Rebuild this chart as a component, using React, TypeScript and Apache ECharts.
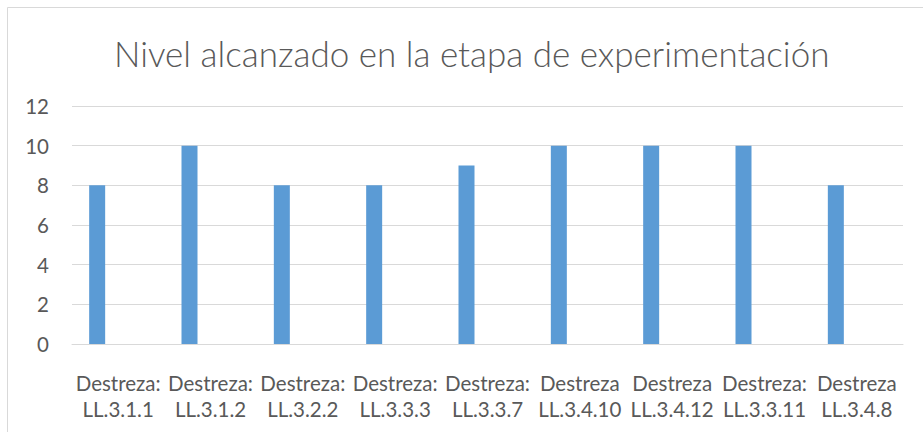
import React, { useEffect, useRef } from "react";
import * as echarts from "echarts";

const categories = [
  "Destreza: LL.3.1.1",
  "Destreza: LL.3.1.2",
  "Destreza: LL.3.2.2",
  "Destreza: LL.3.3.3",
  "Destreza: LL.3.3.7",
  "Destreza LL.3.4.10",
  "Destreza LL.3.4.12",
  "Destreza: LL.3.3.11",
  "Destreza LL.3.4.8",
];
const values = [8, 10, 8, 8, 9, 10, 10, 10, 8];
const emptySeries = categories.map(() => null);
const yTicks = { min: 0, max: 12, interval: 2 };
const title = "Nivel alcanzado en la etapa de experimentación";

export default function App() {
  const ref = useRef<HTMLDivElement>(null);
  useEffect(() => {
    if (!ref.current) return;
    const chart = echarts.init(ref.current, null, { renderer: "svg" });
    chart.setOption({
      animation: false,
      backgroundColor: "#ffffff",
      textStyle: { fontFamily: "Lato" },
      title: {
        text: title,
        left: 109,
        top: 30,
        textStyle: { fontFamily: "Lato", fontSize: 35, fontWeight: 300, color: "#595959" },
      },
      graphic: [
        {
          type: "rect",
          shape: { x: 7.5, y: 7.5, width: 940, height: 450 },
          style: { fill: "none", stroke: "#d9d9d9", lineWidth: 1 },
          silent: true,
        },
      ],
      grid: { left: 72, right: 20, top: 106, bottom: 88, containLabel: false },
      xAxis: {
        type: "category",
        data: categories,
        axisLine: { lineStyle: { color: "#d9d9d9", width: 1 } },
        axisTick: { show: false },
        axisLabel: {
          interval: 0,
          margin: 26,
          fontFamily: "Lato",
          fontSize: 20.5,
          lineHeight: 26,
          color: "#595959",
          formatter: (v: string) => v.replace(" ", "\n"),
        },
      },
      yAxis: {
        type: "value",
        min: yTicks.min,
        max: yTicks.max,
        interval: yTicks.interval,
        axisLine: { show: false },
        axisTick: { show: false },
        splitLine: { lineStyle: { color: "#d9d9d9", width: 1 } },
        axisLabel: { margin: 23, fontFamily: "Lato", fontSize: 20.5, color: "#595959" },
      },
      series: [
        {
          type: "bar",
          data: values,
          barWidth: 16,
          barGap: "162.5%",
          itemStyle: { color: "#5b9bd5" },
        },
        {
          type: "bar",
          data: emptySeries,
          barWidth: 16,
          itemStyle: { color: "#ed7d31" },
        },
      ],
    });
    return () => chart.dispose();
  }, []);
  return (
    <div
      ref={ref}
      style={{ position: "absolute", left: 0, top: 0, width: 923, height: 432 }}
    />
  );
}
